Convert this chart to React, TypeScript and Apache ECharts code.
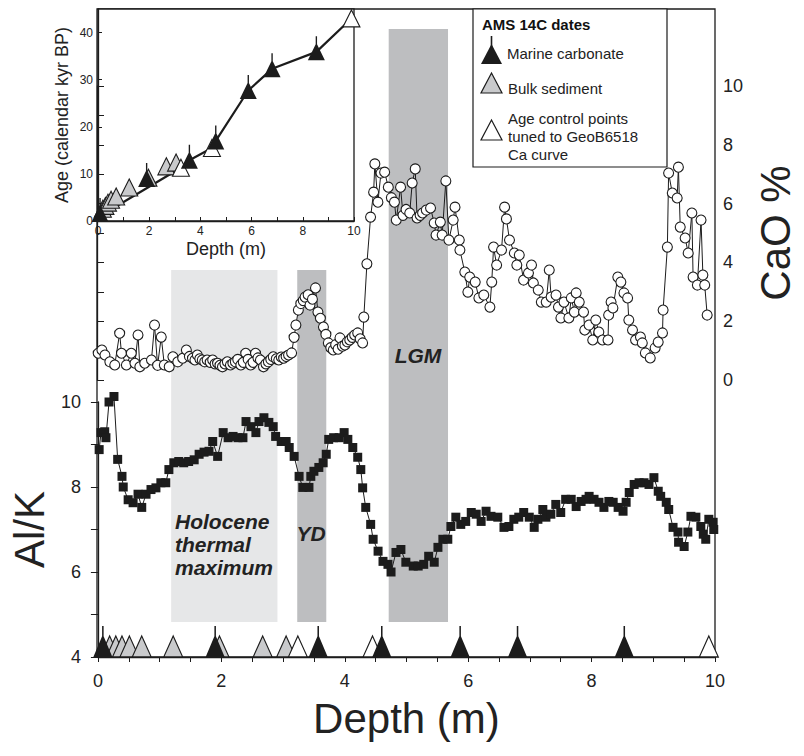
import React, { useEffect, useRef } from "react";
import * as echarts from "echarts";

const FONT = '"Liberation Sans", Arial, Helvetica, sans-serif';

// ---------- data ----------
const alkData: [number, number][] = [
  [0.02, 8.88], [0.05, 9.28], [0.11, 9.3], [0.13, 9.16], [0.18, 10.0], [0.26, 10.13],
  [0.32, 8.65], [0.39, 8.25], [0.41, 8.0], [0.49, 7.7], [0.57, 7.63], [0.65, 7.83],
  [0.71, 7.52], [0.78, 7.83], [0.86, 7.94], [0.94, 7.98], [1.02, 8.1], [1.1, 8.1],
  [1.15, 8.41], [1.23, 8.57], [1.31, 8.6], [1.39, 8.57], [1.47, 8.6], [1.56, 8.64],
  [1.64, 8.77], [1.72, 8.82], [1.8, 8.84], [1.86, 9.07], [1.94, 8.72], [2.03, 9.28],
  [2.11, 9.16], [2.19, 9.19], [2.27, 9.16], [2.35, 9.16], [2.4, 9.54], [2.48, 9.42],
  [2.56, 9.28], [2.61, 9.54], [2.69, 9.63], [2.77, 9.52], [2.84, 9.42], [2.88, 9.19],
  [2.97, 9.07], [3.05, 9.07], [3.1, 8.93], [3.18, 8.72], [3.26, 8.25], [3.32, 7.99],
  [3.42, 7.99], [3.45, 8.25], [3.5, 8.37], [3.58, 8.46], [3.65, 8.57], [3.7, 8.77],
  [3.74, 9.12], [3.82, 9.16], [3.91, 9.16], [3.99, 9.28], [4.05, 9.12], [4.13, 8.93],
  [4.21, 8.7], [4.26, 8.41], [4.29, 7.98], [4.34, 7.52], [4.42, 7.12], [4.46, 6.77],
  [4.54, 6.49], [4.62, 6.25], [4.7, 6.18], [4.75, 6.0], [4.83, 6.46], [4.91, 6.53],
  [4.99, 6.23], [5.11, 6.14], [5.19, 6.14], [5.28, 6.18], [5.36, 6.37], [5.45, 6.23],
  [5.51, 6.58], [5.59, 6.77], [5.67, 6.77], [5.72, 7.07], [5.8, 7.29], [5.88, 7.12],
  [5.96, 7.19], [6.05, 7.4], [6.13, 7.36], [6.21, 7.19], [6.29, 7.43], [6.37, 7.31],
  [6.48, 7.29], [6.58, 7.05], [6.66, 7.07], [6.74, 7.24], [6.82, 7.29], [6.9, 7.4],
  [6.99, 7.29], [7.07, 7.05], [7.13, 7.24], [7.21, 7.47], [7.26, 7.29], [7.34, 7.36],
  [7.42, 7.59], [7.5, 7.4], [7.58, 7.71], [7.67, 7.71], [7.75, 7.54], [7.83, 7.66],
  [7.91, 7.71], [7.96, 7.78], [8.04, 7.71], [8.12, 7.64], [8.2, 7.52], [8.28, 7.66],
  [8.35, 7.64], [8.43, 7.52], [8.51, 7.43], [8.56, 7.64], [8.61, 7.87], [8.69, 8.06],
  [8.77, 8.1], [8.85, 8.1], [8.93, 8.06], [9.01, 8.22], [9.08, 7.9], [9.12, 7.78],
  [9.21, 7.64], [9.25, 7.47], [9.32, 7.05], [9.4, 6.94], [9.41, 6.7], [9.5, 6.6],
  [9.56, 6.94], [9.61, 7.31], [9.69, 7.29], [9.77, 7.07], [9.81, 6.89], [9.85, 6.77],
  [9.9, 7.24], [9.97, 7.17], [9.98, 7.0],
];

const caoData: [number, number][] = [
  [0.02, 0.91], [0.08, 1.02], [0.13, 0.85], [0.21, 0.62], [0.29, 0.51], [0.37, 1.59],
  [0.4, 0.91], [0.48, 0.51], [0.56, 0.91], [0.62, 0.57], [0.67, 1.53], [0.7, 0.45],
  [0.78, 0.57], [0.89, 0.68], [0.94, 1.87], [0.99, 0.5], [1.05, 1.46], [1.1, 0.51],
  [1.18, 0.45], [1.24, 0.79], [1.32, 0.62], [1.4, 0.74], [1.46, 1.02], [1.51, 0.8],
  [1.56, 0.74], [1.6, 0.68], [1.64, 0.85], [1.68, 0.72], [1.72, 0.68], [1.76, 0.62],
  [1.8, 0.68], [1.85, 0.6], [1.89, 0.68], [1.93, 0.55], [1.97, 0.57], [2.01, 0.5],
  [2.05, 0.45], [2.09, 0.55], [2.13, 0.62], [2.18, 0.51], [2.22, 0.57], [2.26, 0.62],
  [2.3, 0.7], [2.35, 0.51], [2.39, 0.6], [2.43, 0.91], [2.47, 0.7], [2.51, 0.51],
  [2.55, 0.6], [2.59, 0.91], [2.63, 0.75], [2.67, 0.68], [2.72, 0.45], [2.76, 0.55],
  [2.8, 0.62], [2.84, 0.7], [2.88, 0.79], [2.93, 0.72], [2.97, 0.68], [3.01, 0.78],
  [3.05, 0.74], [3.09, 0.8], [3.13, 0.85], [3.18, 0.92], [3.22, 1.45], [3.25, 1.87],
  [3.29, 2.38], [3.33, 2.6], [3.37, 2.7], [3.4, 2.82], [3.45, 2.9], [3.48, 2.55],
  [3.52, 2.75], [3.57, 3.13], [3.61, 2.31], [3.65, 2.1], [3.7, 1.8], [3.74, 1.55],
  [3.78, 1.26], [3.82, 1.1], [3.86, 1.02], [3.9, 1.2], [3.94, 1.05], [3.97, 1.43],
  [4.01, 1.15], [4.05, 1.19], [4.09, 1.3], [4.13, 1.36], [4.17, 1.45], [4.21, 1.53],
  [4.26, 1.6], [4.3, 1.4], [4.34, 1.26], [4.36, 2.14], [4.41, 3.95], [4.47, 5.54],
  [4.52, 6.39], [4.54, 7.35], [4.59, 6.05], [4.64, 7.04], [4.7, 7.07], [4.76, 6.56],
  [4.81, 6.2], [4.86, 6.05], [4.89, 5.44], [4.96, 6.56], [5.0, 5.6], [5.05, 5.8],
  [5.11, 5.68], [5.15, 6.7], [5.2, 7.18], [5.23, 5.51], [5.28, 5.6], [5.32, 5.68],
  [5.38, 5.78], [5.45, 5.85], [5.51, 5.34], [5.54, 4.93], [5.61, 5.37], [5.64, 4.93],
  [5.7, 6.77], [5.75, 4.76], [5.82, 5.44], [5.85, 5.88], [5.92, 4.76], [5.93, 4.42],
  [6.01, 3.67], [6.06, 2.99], [6.09, 3.5], [6.18, 3.33], [6.24, 2.79], [6.32, 2.89],
  [6.42, 2.48], [6.45, 3.33], [6.48, 4.52], [6.53, 3.91], [6.61, 4.42], [6.66, 5.88],
  [6.69, 5.48], [6.74, 4.76], [6.82, 4.32], [6.86, 3.91], [6.9, 4.25], [6.97, 3.4],
  [7.05, 3.64], [7.1, 3.91], [7.13, 3.3], [7.21, 3.06], [7.26, 2.65], [7.34, 2.65],
  [7.39, 3.74], [7.42, 2.82], [7.5, 2.89], [7.54, 2.48], [7.58, 2.11], [7.63, 2.65],
  [7.71, 2.11], [7.75, 2.79], [7.8, 2.31], [7.83, 2.96], [7.88, 2.65], [7.95, 2.31],
  [7.97, 1.7], [8.04, 1.87], [8.1, 1.36], [8.15, 2.04], [8.2, 1.63], [8.26, 1.36],
  [8.35, 1.36], [8.36, 2.21], [8.4, 2.65], [8.43, 2.45], [8.51, 3.5], [8.56, 3.33],
  [8.61, 2.96], [8.67, 2.79], [8.69, 2.04], [8.75, 1.7], [8.8, 1.36], [8.88, 1.46],
  [8.91, 1.26], [8.96, 0.92], [9.04, 0.75], [9.12, 1.09], [9.17, 1.29], [9.24, 1.6],
  [9.25, 2.38], [9.32, 4.52], [9.34, 7.04], [9.4, 6.36], [9.48, 6.19], [9.5, 7.24],
  [9.53, 5.2], [9.61, 4.83], [9.66, 4.32], [9.72, 5.68], [9.74, 3.5], [9.81, 3.23],
  [9.87, 5.44], [9.9, 3.57], [9.93, 3.23], [9.97, 2.21],
];

// AMS 14C dates: depth (m) and calendar age (kyr BP)
const marineDepth = [0.08, 1.9, 3.57, 4.6, 5.87, 6.8, 8.53];
const marineAge = [1.6, 9.0, 12.9, 17.0, 27.7, 32.3, 35.9];
const bulkDepth = [0.19, 0.29, 0.39, 0.51, 0.71, 1.22, 1.97, 2.67, 3.05];
const bulkAge = [2.6, 3.2, 3.9, 4.5, 5.2, 7.1, 9.2, 11.6, 12.4];
const tunedDepth = [3.24, 4.45, 9.9];
const tunedAge = [11.3, 15.5, 43.0];
const modelDepth = [0, 3.24, 3.57, 4.45, 4.6, 5.87, 6.8, 8.53, 9.9];
const modelAge = [0.8, 11.3, 12.9, 15.5, 17.0, 27.7, 32.3, 35.9, 43.0];

// climate intervals (depth ranges, m)
const bandRanges: [number, number][] = [[1.2, 2.92], [3.24, 3.71], [4.72, 5.68]];
const bandLabels = ["Holocene\nthermal\nmaximum", "YD", "LGM"];

// ---------- styles ----------
const BAND_FILL = ["#e6e7e8", "#bdbec0", "#bdbec0"];
const BAND_TOP = [270, 270, 29];
const BAND_BOTTOM = 622;
const INK = "#1c1c1c";
const GRAY_TRI = "#c9cacc";
const STEM_TRI = "path://M9.2,0 L10.8,0 L10.8,10 L20,30 L0,30 L9.2,10 Z";

const evenLabel = (v: number) => (Math.abs(v % 2) < 1e-6 ? String(Math.round(v)) : "");

export default function App() {
  const ref = useRef<HTMLDivElement>(null);
  useEffect(() => {
    if (!ref.current) return;
    const chart = echarts.init(ref.current, undefined, { renderer: "svg" });
    const zip = (a: number[], b: number[]) => a.map((d, i) => [d, b[i]]);
    const axisText = { color: "#222", fontFamily: FONT };

    const option: any = {
      animation: false,
      backgroundColor: "#fff",
      grid: [
        { left: 97, top: 9, width: 618, height: 648, show: true, borderColor: INK, borderWidth: 1.3, backgroundColor: "transparent" },
        { left: 97, top: 402, width: 618, height: 255 },
        { left: 97, top: 86, width: 618, height: 294 },
        { left: 98, top: 9, width: 256, height: 212, show: true, borderColor: INK, borderWidth: 1.3, backgroundColor: "#fff" },
      ],
      xAxis: [
        { gridIndex: 0, type: "value", min: 0, max: 10, show: false },
        {
          gridIndex: 1, type: "value", min: 0, max: 10, interval: 0.5,
          axisLine: { show: true, lineStyle: { color: INK, width: 1.3 } },
          axisTick: { show: true, length: 5, lineStyle: { color: INK, width: 1 } },
          axisLabel: { ...axisText, fontSize: 18, margin: 15, formatter: evenLabel },
          splitLine: { show: false },
          name: "Depth (m)", nameLocation: "middle", nameGap: 40,
          nameTextStyle: { ...axisText, fontSize: 42 },
        },
        { gridIndex: 2, type: "value", min: 0, max: 10, show: false },
        {
          gridIndex: 3, type: "value", min: 0, max: 10, interval: 1,
          axisLine: { show: true, lineStyle: { color: INK, width: 1.3 } },
          axisTick: { show: true, inside: true, length: 4, lineStyle: { color: INK } },
          axisLabel: { ...axisText, fontSize: 12, margin: 4, formatter: evenLabel },
          splitLine: { show: false },
          name: "Depth (m)", nameLocation: "middle", nameGap: 19,
          nameTextStyle: { ...axisText, fontSize: 18 },
        },
      ],
      yAxis: [
        { gridIndex: 0, type: "value", min: 0, max: 1, show: false },
        {
          gridIndex: 1, type: "value", min: 4, max: 10, interval: 1, position: "left",
          axisLine: { show: true, lineStyle: { color: INK, width: 1.3 } },
          axisTick: { show: true, length: 7, lineStyle: { color: INK } },
          axisLabel: { ...axisText, fontSize: 18, margin: 17, formatter: evenLabel },
          splitLine: { show: false },
          name: "Al/K", nameLocation: "middle", nameGap: 44,
          nameTextStyle: { ...axisText, fontSize: 42 },
        },
        {
          gridIndex: 2, type: "value", min: 0, max: 10, interval: 1, position: "right",
          axisLine: { show: true, lineStyle: { color: INK, width: 1.3 } },
          axisTick: { show: true, length: 7, lineStyle: { color: INK } },
          axisLabel: { ...axisText, fontSize: 18, margin: 14, formatter: evenLabel },
          splitLine: { show: false },
          name: "CaO %", nameLocation: "middle", nameGap: 45,
          nameTextStyle: { ...axisText, fontSize: 42 },
        },
        {
          gridIndex: 3, type: "value", min: 0, max: 45, interval: 10,
          axisLine: { show: true, lineStyle: { color: INK, width: 1.3 } },
          axisTick: { show: true, inside: true, length: 4, lineStyle: { color: INK } },
          axisLabel: { ...axisText, fontSize: 12, margin: 5, showMaxLabel: false, formatter: (v: number) => (v <= 40 ? String(v) : "") },
          splitLine: { show: false },
          name: "Age (calendar kyr BP)", nameLocation: "middle", nameGap: 27,
          nameTextStyle: { ...axisText, fontSize: 18 },
        },
      ],
      series: [
        {
          type: "custom", xAxisIndex: 0, yAxisIndex: 0, z: 1, silent: true,
          data: bandRanges.map((r) => [r[0], r[1], 0]),
          encode: { x: [0, 1], y: 2 },
          renderItem: (params: any, api: any) => {
            const i = params.dataIndex;
            const a = api.coord([api.value(0), 0]);
            const b = api.coord([api.value(1), 0]);
            return {
              type: "rect",
              shape: { x: a[0], y: BAND_TOP[i], width: b[0] - a[0], height: BAND_BOTTOM - BAND_TOP[i] },
              style: { fill: BAND_FILL[i] },
            };
          },
        },
        {
          name: "Al/K", type: "line", xAxisIndex: 1, yAxisIndex: 1, z: 3, clip: false,
          data: alkData, symbol: "rect", symbolSize: 9, showAllSymbol: true,
          itemStyle: { color: INK }, lineStyle: { color: INK, width: 1 },
        },
        {
          name: "CaO", type: "line", xAxisIndex: 2, yAxisIndex: 2, z: 4, clip: false,
          data: caoData, symbol: "circle", symbolSize: 10, showAllSymbol: true,
          itemStyle: { color: "#fff", borderColor: INK, borderWidth: 1.1 },
          lineStyle: { color: INK, width: 1 },
        },
        {
          name: "Bulk sediment", type: "scatter", xAxisIndex: 1, yAxisIndex: 1, z: 5, clip: false,
          data: bulkDepth.map((d) => [d, 4]), symbol: "triangle", symbolSize: [19, 21], symbolOffset: [0, -10.5],
          itemStyle: { color: GRAY_TRI, borderColor: INK, borderWidth: 1.2, opacity: 1 },
        },
        {
          name: "Age control points", type: "scatter", xAxisIndex: 1, yAxisIndex: 1, z: 5, clip: false,
          data: tunedDepth.map((d) => [d, 4]), symbol: "triangle", symbolSize: [19, 21], symbolOffset: [0, -10.5],
          itemStyle: { color: "#fff", borderColor: INK, borderWidth: 1.2, opacity: 1 },
        },
        {
          name: "Marine carbonate", type: "scatter", xAxisIndex: 1, yAxisIndex: 1, z: 5, clip: false,
          data: marineDepth.map((d) => [d, 4]), symbol: STEM_TRI, symbolSize: [19, 31], symbolOffset: [0, -15.5],
          itemStyle: { color: INK, opacity: 1 },
        },
        {
          name: "Age model", type: "line", xAxisIndex: 3, yAxisIndex: 3, z: 6, clip: false,
          data: zip(modelDepth, modelAge), symbol: "none", lineStyle: { color: INK, width: 2.2 },
        },
        {
          name: "Bulk (inset)", type: "scatter", xAxisIndex: 3, yAxisIndex: 3, z: 7, clip: false,
          data: zip(bulkDepth, bulkAge), symbol: "triangle", symbolSize: 17,
          itemStyle: { color: GRAY_TRI, borderColor: INK, borderWidth: 1.1, opacity: 1 },
        },
        {
          name: "Tuned (inset)", type: "scatter", xAxisIndex: 3, yAxisIndex: 3, z: 7, clip: false,
          data: zip(tunedDepth, tunedAge), symbol: "triangle", symbolSize: 17,
          itemStyle: { color: "#fff", borderColor: INK, borderWidth: 1.1, opacity: 1 },
        },
        {
          name: "Marine (inset)", type: "scatter", xAxisIndex: 3, yAxisIndex: 3, z: 7, clip: false,
          data: zip(marineDepth, marineAge), symbol: STEM_TRI, symbolSize: [17, 24], symbolOffset: [0, -3.5],
          itemStyle: { color: INK, opacity: 1 },
        },
      ],
      graphic: [
        // band labels
        { type: "text", z: 50, x: 175, y: 510, style: { text: bandLabels[0], font: `italic bold 21px ${FONT}`, lineHeight: 23, fill: "#222" } },
        { type: "text", z: 50, x: 311, y: 533, style: { text: bandLabels[1], font: `italic bold 21px ${FONT}`, fill: "#222", align: "center", verticalAlign: "middle", textAlign: "center", textVerticalAlign: "middle" } },
        { type: "text", z: 50, x: 418, y: 355, style: { text: bandLabels[2], font: `italic bold 21px ${FONT}`, fill: "#222", align: "center", verticalAlign: "middle", textAlign: "center", textVerticalAlign: "middle" } },
        // legend
        { type: "rect", z: 50, shape: { x: 473, y: 9, width: 194, height: 158 }, style: { fill: "#fff", stroke: INK, lineWidth: 1.2 } },
        { type: "text", z: 51, x: 482, y: 24, style: { text: "AMS 14C dates", font: `bold 15px ${FONT}`, fill: "#111", verticalAlign: "middle", textVerticalAlign: "middle" } },
        { type: "polygon", z: 51, shape: { points: [[481, 64], [502, 64], [491.5, 44]] }, style: { fill: INK } },
        { type: "line", z: 51, shape: { x1: 491.5, y1: 36, x2: 491.5, y2: 47 }, style: { stroke: INK, lineWidth: 1.6 } },
        { type: "text", z: 51, x: 507, y: 53, style: { text: "Marine carbonate", font: `15px ${FONT}`, fill: "#222", verticalAlign: "middle", textVerticalAlign: "middle" } },
        { type: "polygon", z: 51, shape: { points: [[481, 93], [502, 93], [491.5, 73]] }, style: { fill: GRAY_TRI, stroke: INK, lineWidth: 1.2 } },
        { type: "text", z: 51, x: 508, y: 88, style: { text: "Bulk sediment", font: `15px ${FONT}`, fill: "#222", verticalAlign: "middle", textVerticalAlign: "middle" } },
        { type: "polygon", z: 51, shape: { points: [[481, 140], [502, 140], [491.5, 120]] }, style: { fill: "#fff", stroke: INK, lineWidth: 1.2 } },
        { type: "text", z: 51, x: 508, y: 109, style: { text: "Age control points\ntuned to GeoB6518\nCa curve", font: `15px ${FONT}`, lineHeight: 18, fill: "#222" } },
      ],
    };
    chart.setOption(option);
    return () => chart.dispose();
  }, []);
  return <div ref={ref} style={{ position: "fixed", left: 0, top: 0, width: 804, height: 756 }} />;
}
